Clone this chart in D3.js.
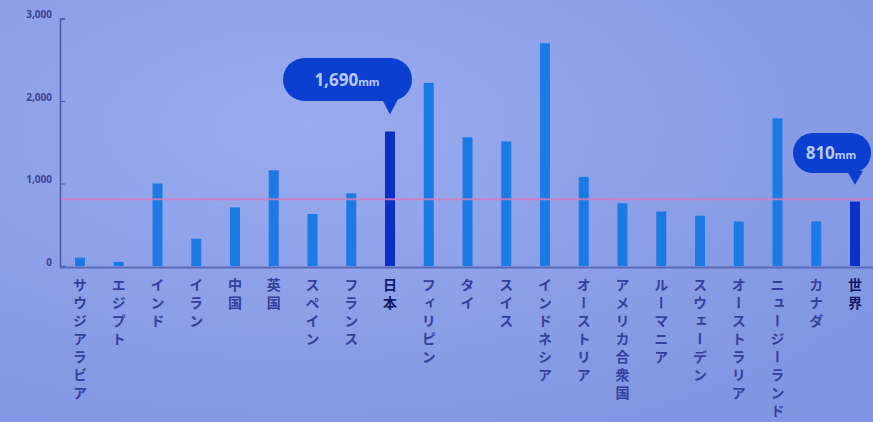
<!DOCTYPE html>
<html>
<head>
<meta charset="UTF-8">
<script src="https://cdn.jsdelivr.net/npm/d3@7"></script>
<style>
body{
    margin:0;
    background:#8b9fe8;
    font-family: "Noto Sans CJK JP", "Noto Sans", sans-serif;
}
</style>
</head>
<body>
<script>
var width = 873;
var height = 422;

// 年平均降水量 (mm)
var categories = ["サウジアラビア","エジプト","インド","イラン","中国","英国","スペイン","フランス","日本","フィリピン","タイ","スイス","インドネシア","オーストリア","アメリカ合衆国","ルーマニア","スウェーデン","オーストラリア","ニュージーランド","カナダ","世界"]
var values = [100, 50, 1000, 330, 710, 1160, 630, 880, 1630, 2220, 1560, 1510, 2700, 1080, 760, 660, 610, 540, 1790, 540, 780]
var highlight = ["日本", "世界"]
var yTicks = [0, 1000, 2000, 3000]
var worldAverage = 810
var callouts = [
    {name: "日本", num: "1,690", unit: "mm"},
    {name: "世界", num: "810", unit: "mm"}
]

var svg = d3.select('body')
    .append('svg')
    .attr('width', width)
    .attr('height', height)

var defs = svg.append("defs")
var grad = defs.append("radialGradient").attr("id", "bg")
    .attr("cx", "35%").attr("cy", "30%").attr("r", "80%")
grad.append("stop").attr("offset", "0%").attr("stop-color", "#9aabef")
grad.append("stop").attr("offset", "100%").attr("stop-color", "#8196e2")

svg.append("rect")
    .attr("width", width)
    .attr("height", height)
    .attr("fill", "url(#bg)")

var x = d3.scalePoint()
    .domain(categories)
    .range([80, 855])

var y = d3.scaleLinear()
    .domain([0, 3000])
    .range([266, 18.5])

var barw = 10

// y axis
var yAxis = svg.append("g")
    .attr("transform", "translate(60,0)")
    .call(d3.axisLeft(y).tickValues(yTicks).tickSize(-5).tickPadding(8)
        .tickFormat(d3.format(",")))
yAxis.select(".domain").attr("stroke", "#4a58a8").attr("stroke-width", 1.5)
yAxis.selectAll(".tick line").attr("stroke", "#4a58a8")
yAxis.selectAll(".tick text")
    .attr("fill", "#3a4496")
    .attr("font-size", 10)
    .attr("font-weight", "bold")
    .attr("dy", "-0.1em")
    .attr("font-family", "Noto Sans")

// baseline
svg.append("line")
    .attr("x1", 60).attr("x2", width)
    .attr("y1", y(0) + 1.5).attr("y2", y(0) + 1.5)
    .attr("stroke", "#5a6ab8")
    .attr("stroke-width", 2)

// bars
svg.selectAll(".bar")
    .data(categories)
    .enter()
    .append("rect")
    .attr("class", "bar")
    .attr("x", function(d){ return x(d) - barw/2 })
    .attr("y", function(d, i){ return y(values[i]) })
    .attr("width", barw)
    .attr("height", function(d, i){ return y(0) - y(values[i]) })
    .attr("fill", function(d){ return highlight.indexOf(d) >= 0 ? "#0b30c6" : "#1c7ae4" })

// world average line
svg.append("line")
    .attr("x1", 61).attr("x2", width)
    .attr("y1", y(worldAverage)).attr("y2", y(worldAverage))
    .attr("stroke", "#d27cc0")
    .attr("stroke-width", 2)
    .attr("opacity", 0.85)

// category labels (vertical)
svg.selectAll(".cat")
    .data(categories)
    .enter()
    .append("text")
    .attr("class", "cat")
    .attr("x", function(d){ return x(d) })
    .attr("y", 278)
    .style("writing-mode", "vertical-rl")
    .attr("font-size", 14)
    .attr("letter-spacing", 4)
    .attr("font-weight", "bold")
    .attr("fill", function(d){ return highlight.indexOf(d) >= 0 ? "#10186a" : "#34409a" })
    .text(function(d){ return d })

// callouts
var boxes = [
    {x0: 283, x1: 412, y0: 58, y1: 101},
    {x0: 793, x1: 871, y0: 133, y1: 173}
]
callouts.forEach(function(c, k){
    var i = categories.indexOf(c.name)
    var cx = x(c.name)
    var b = boxes[k]
    var g = svg.append("g")
    var tipY = y(values[i]) - 17
    g.append("rect")
        .attr("x", b.x0).attr("y", b.y0)
        .attr("width", b.x1 - b.x0).attr("height", b.y1 - b.y0)
        .attr("rx", (b.y1 - b.y0)/2)
        .attr("fill", "#0b3fd0")
    g.append("path")
        .attr("d", "M" + (cx - 8) + "," + (b.y1 - 2) + " L" + (cx + 8) + "," + (b.y1 - 2) + " L" + cx + "," + tipY + " Z")
        .attr("fill", "#0b3fd0")
    var t = g.append("text")
        .attr("x", k == 0 ? b.x0 + 64 : b.x0 + 38)
        .attr("y", (b.y0 + b.y1)/2 + 6)
        .attr("text-anchor", "middle")
        .attr("fill", "#b9c9ff")
        .attr("font-family", "Noto Sans")
        .attr("font-weight", "bold")
    t.append("tspan").attr("font-size", 17).text(c.num)
    t.append("tspan").attr("font-size", 11).text(c.unit)
})
</script>
</body>
</html>
